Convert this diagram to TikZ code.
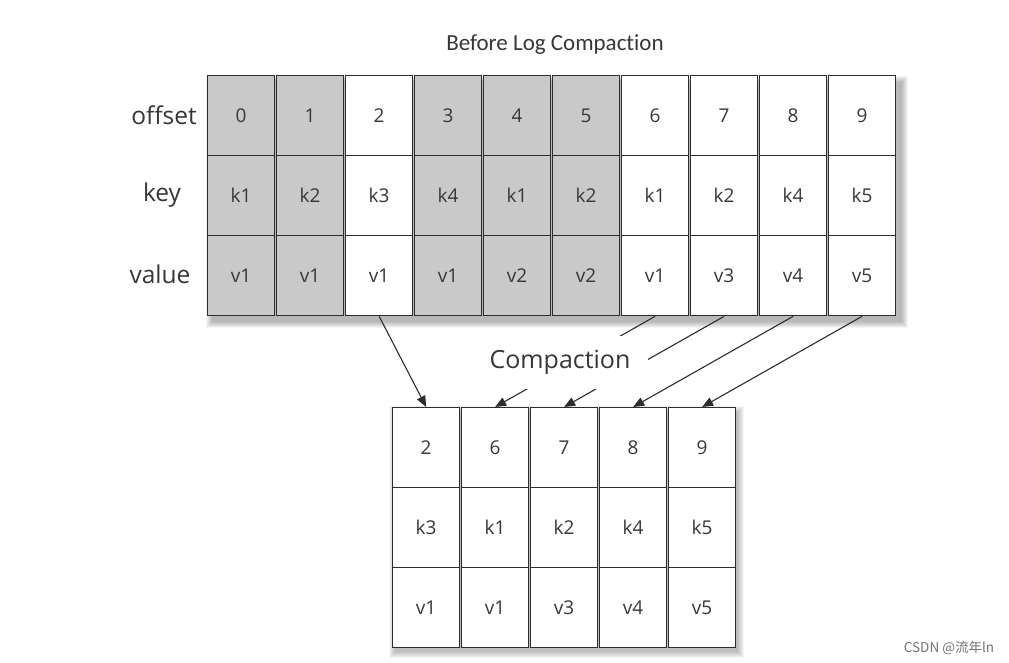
\documentclass[tikz,border=0pt]{standalone}
\usepackage{fontspec}
\setmainfont{Open Sans}
\newfontfamily\titlefont[Ligatures={NoCommon,NoDiscretionary}]{Carlito}
\newfontfamily\cjkfont{Noto Sans CJK SC}
\usetikzlibrary{arrows.meta}
\definecolor{cellgray}{RGB}{201,201,201}
\definecolor{ink}{RGB}{45,45,45}
\definecolor{txt}{RGB}{55,55,55}
\tikzset{
  cellbox/.style={draw=ink, line width=1.3pt, minimum width=67pt, minimum height=80pt, inner sep=0pt, anchor=north west, font=\fontsize{19}{21}\selectfont, text=txt},
  grayc/.style={cellbox, fill=cellgray},
  whitec/.style={cellbox, fill=white},
  rowlabel/.style={font=\fontsize{24.5}{26}\selectfont, text=txt},
  conn/.style={draw=ink, line width=1.1pt, -{Triangle[length=11pt,width=9pt]}},
}
\begin{document}
\begin{tikzpicture}[x=1pt,y=-1pt]
\useasboundingbox (0,0) rectangle (1009,663);
\fill[white] (0,0) rectangle (1009,663);
% shadows
\foreach \s in {0,1,2,3,4,5,6}{
  \fill[black,opacity=0.045] (207+5-\s,75+7-\s) rectangle (897+5+\s,315+7+\s);
  \fill[black,opacity=0.04] (392+3-\s,407+5-\s) rectangle (735+3+\s,647+5+\s);
}
% top table
\foreach \i/\o/\k/\v/\st in {0/0/k1/v1/grayc,1/1/k2/v1/grayc,2/2/k3/v1/whitec,3/3/k4/v1/grayc,4/4/k1/v2/grayc,5/5/k2/v2/grayc,6/6/k1/v1/whitec,7/7/k2/v3/whitec,8/8/k4/v4/whitec,9/9/k5/v5/whitec}{
  \node[\st] (to\i) at (207+69*\i,75) {\o};
  \node[\st] (tk\i) at (207+69*\i,155) {\k};
  \node[\st] (tv\i) at (207+69*\i,235) {\v};
}
% bottom table
\foreach \j/\o/\k/\v in {0/2/k3/v1,1/6/k1/v1,2/7/k2/v3,3/8/k4/v4,4/9/k5/v5}{
  \node[whitec] (bo\j) at (392+69*\j,407) {\o};
  \node[whitec] (bk\j) at (392+69*\j,487) {\k};
  \node[whitec] (bv\j) at (392+69*\j,567) {\v};
}
% labels
\node[rowlabel] (loff) at (164,115) {offset};
\node[rowlabel] (lkey) at (162,195) {key};
\node[rowlabel] (lval) at (160,274) {value};
\node[font=\titlefont\fontsize{23}{25}\selectfont, text=txt] (title) at (555,45) {Before Log Compaction};
% connectors
\draw[conn] (tv2.south) -- (bo0.north);
\draw[conn] (tv6.south) -- (bo1.north);
\draw[conn] (tv7.south) -- (bo2.north);
\draw[conn] (tv8.south) -- (bo3.north);
\draw[conn] (tv9.south) -- (bo4.north);
\node[fill=white, minimum width=176pt, minimum height=53pt, inner sep=0pt, font=\fontsize{25}{27}\selectfont, text=txt] (comp) at (560,362) {Compaction};
\node[font=\cjkfont\fontsize{13.5}{15}\selectfont, text=black!55] (wm) at (949,648) {CSDN @流年ln};
\end{tikzpicture}
\end{document}
